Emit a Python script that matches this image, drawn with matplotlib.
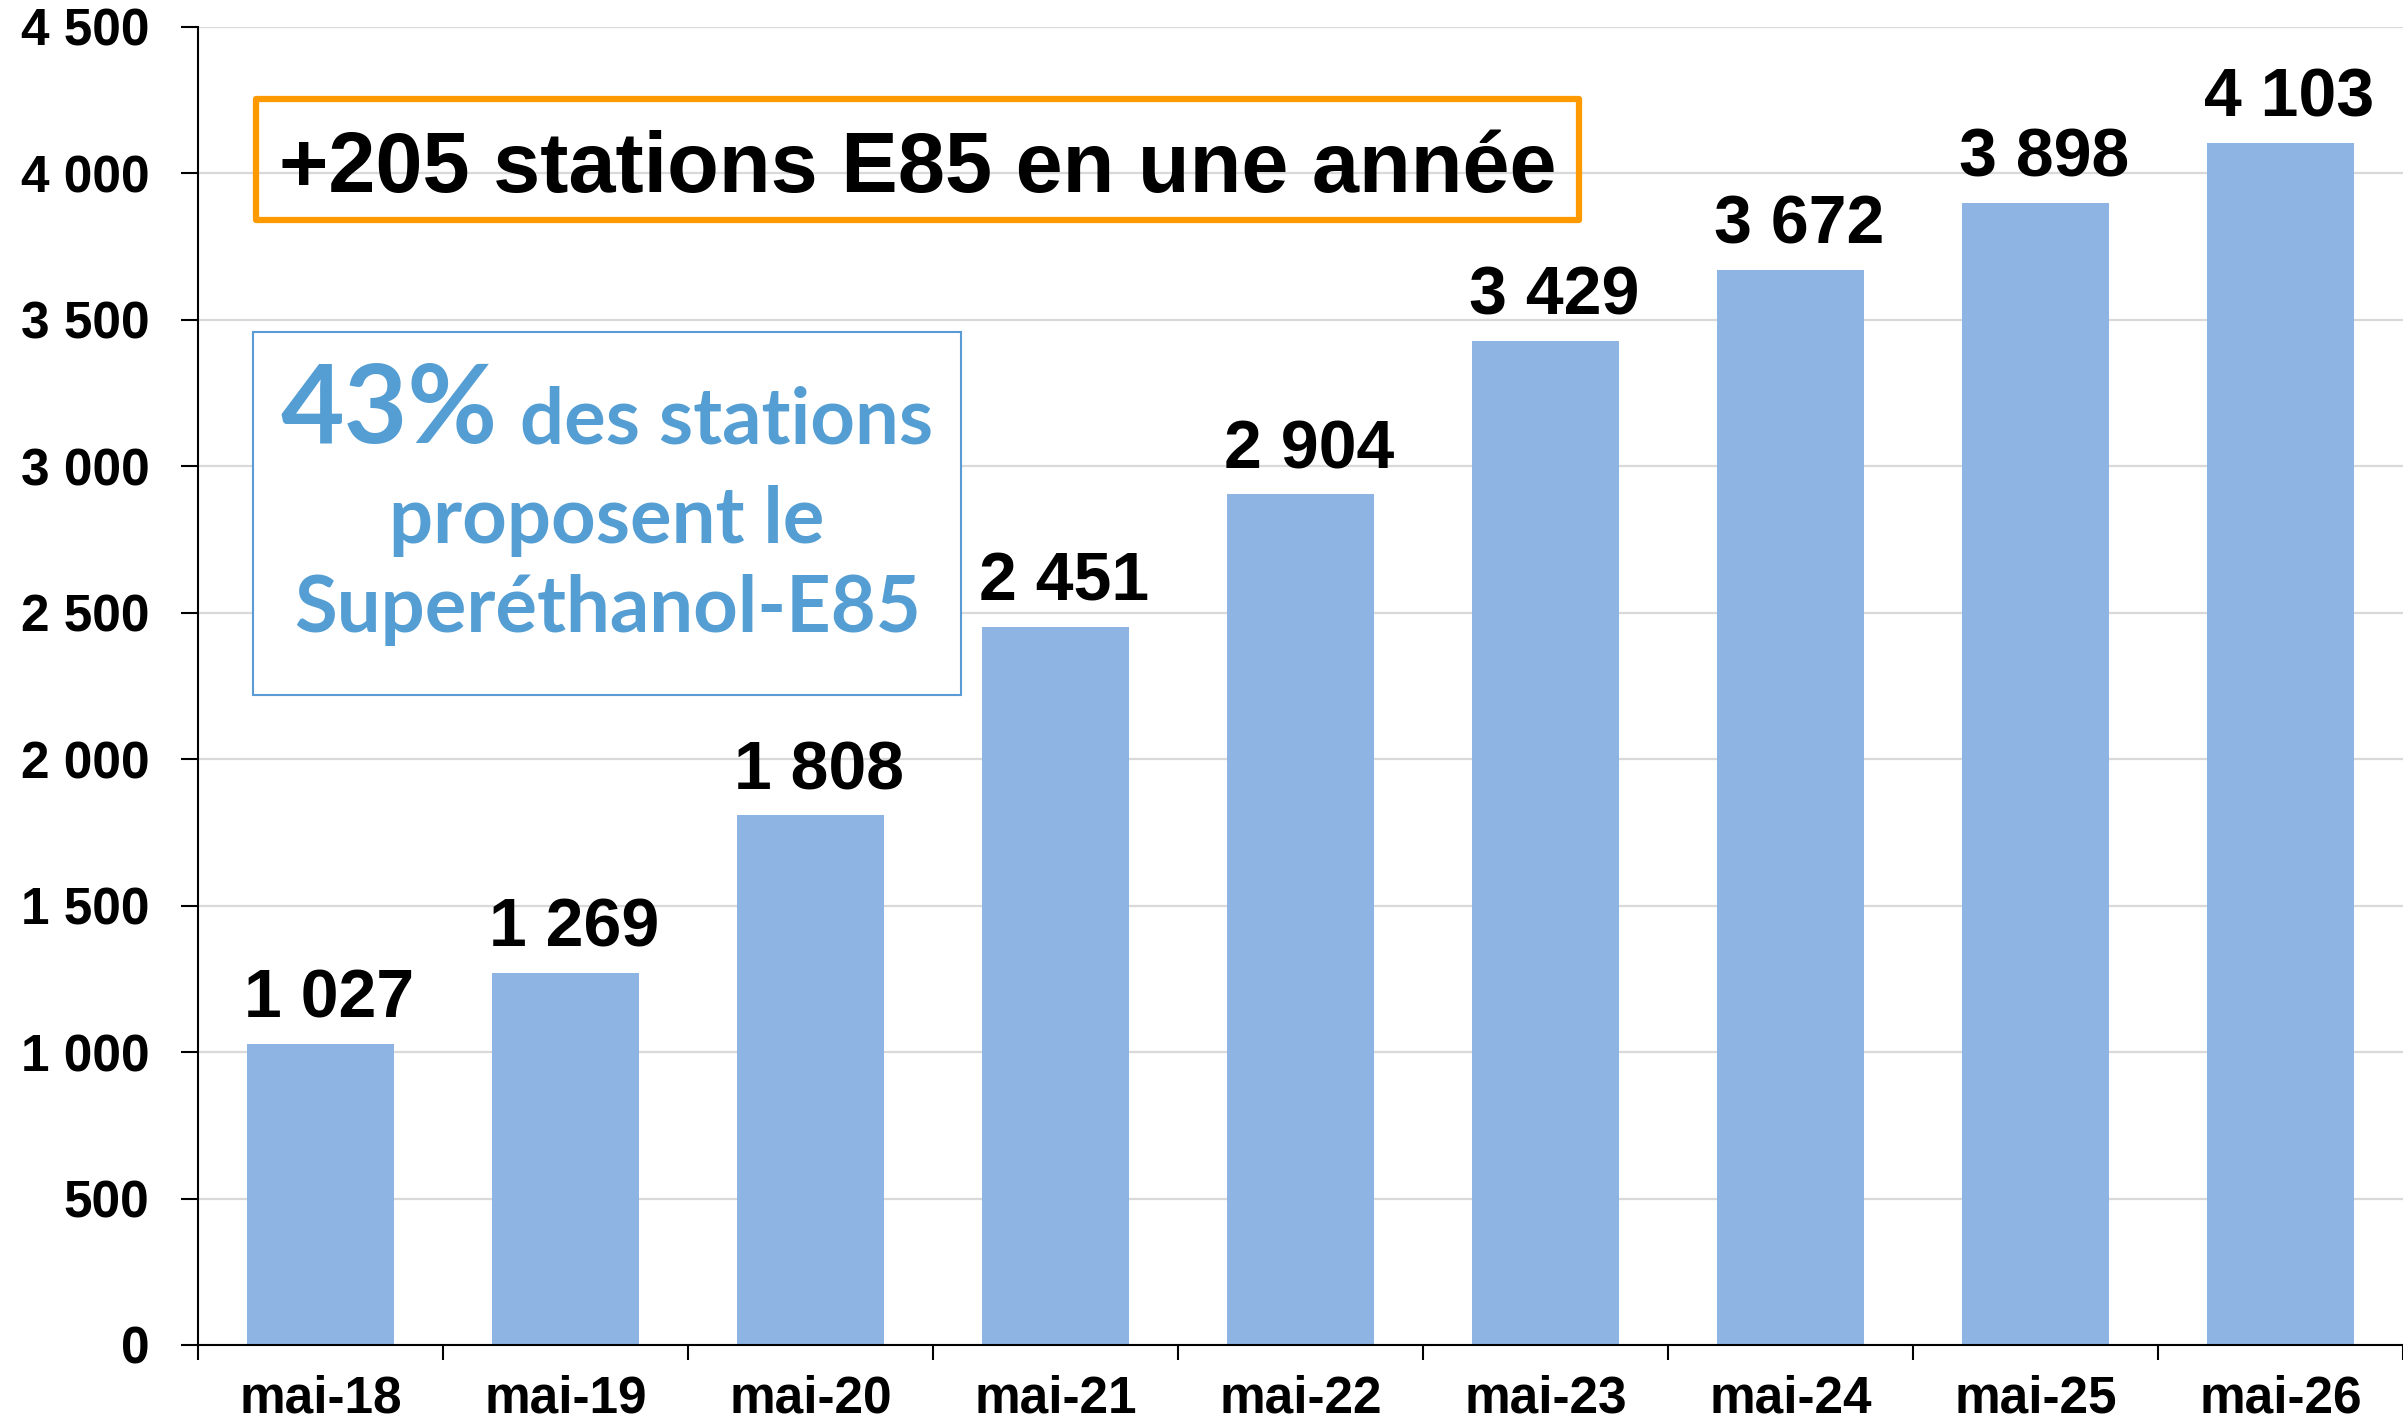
import matplotlib
matplotlib.use("Agg")
import matplotlib.pyplot as plt
import numpy as np
from matplotlib.patches import Rectangle

# data
categories = ["mai-18", "mai-19", "mai-20", "mai-21", "mai-22",
              "mai-23", "mai-24", "mai-25", "mai-26"]
stations = [1027, 1269, 1808, 2451, 2904, 3429, 3672, 3898, 4103]
yticks = list(range(0, 4501, 500))

title_txt = "+205 stations E85 en une année"
pct_txt = "43%"
box_lines = ["des stations", "proposent le", "Superéthanol-E85"]

bar_col = "#8EB4E3"
blue = "#549ED3"
orange = "#FF9900"

def fmt(v):
    return f"{v:,}".replace(",", " ")

plt.rcParams['font.family'] = ['Liberation Sans', 'DejaVu Sans']

fig = plt.figure(figsize=(24.03, 14.24), dpi=100)
ax = fig.add_axes([198/2403, 1-1345/1424, 1-198/2403, (1345-27)/1424])

x = np.arange(len(categories))
ax.bar(x, stations, width=0.6, color=bar_col, zorder=2)

# value labels above bars (slightly right of centre, as in the source)
for xi, v in zip(x, stations):
    ax.annotate(fmt(v), (xi, v), xytext=(6, 19), textcoords="offset points",
                ha="center", va="baseline", fontsize=49, fontweight="bold",
                zorder=4)

ax.set_xlim(-0.5, len(categories) - 0.5)
ax.set_ylim(0, 4500)
ax.set_yticks(yticks)
ax.set_yticklabels([fmt(t) for t in yticks], fontsize=37, fontweight="bold")
ax.tick_params(axis="y", length=12, width=1.5, pad=23)

# ticks between categories, labels at the centres
ax.set_xticks(np.arange(-0.5, len(categories), 1))
ax.set_xticklabels([])
ax.set_xticks(x, minor=True)
ax.set_xticklabels(categories, minor=True, fontsize=37, fontweight="bold")
ax.tick_params(axis="x", which="major", length=11, width=1.5)
ax.tick_params(axis="x", which="minor", length=0, pad=21)

ax.grid(axis="y", color="#D9D9D9", lw=1.6, zorder=0)
ax.set_axisbelow(True)
for s in ["top", "right"]:
    ax.spines[s].set_visible(False)
for s in ["left", "bottom"]:
    ax.spines[s].set_linewidth(1.5)
    ax.spines[s].set_zorder(3)

# orange box
ax.add_patch(Rectangle((-0.2635, 3841), 5.136 + 0.2635, 4255 - 3841,
                       fill=False, ec=orange, lw=4.5, zorder=5,
                       joinstyle="round", clip_on=False))
ax.text(2.436, 3937, title_txt, ha="center", va="baseline",
        fontsize=61, fontweight="bold", zorder=6)

# blue box
ax.add_patch(Rectangle((-0.276, 2219), 2.616 + 0.276, 3460 - 2219,
                       fc="white", ec="#5B9BD5", lw=1.5, zorder=5))
bfont = ["Lato", "DejaVu Sans"]
cx = 1.170
t_pct = ax.text(cx, 3079, pct_txt, ha="left", va="baseline", color=blue,
                fontsize=79, fontweight="bold", family=bfont, zorder=6)
t_des = ax.text(cx, 3079, box_lines[0], ha="left", va="baseline", color=blue,
                fontsize=56, fontweight="bold", family=bfont, zorder=6)
ax.text(cx, 2738, box_lines[1], ha="center", va="baseline", color=blue,
        fontsize=56, fontweight="bold", family=bfont, zorder=6)
ax.text(cx, 2433, box_lines[2], ha="center", va="baseline", color=blue,
        fontsize=56, fontweight="bold", family=bfont, zorder=6)

# centre the first line (two sizes)
fig.canvas.draw()
r = fig.canvas.get_renderer()
w1 = t_pct.get_window_extent(r).width
w2 = t_des.get_window_extent(r).width
gap = 22
cpx = ax.transData.transform((cx, 0))[0]
left = cpx - (w1 + gap + w2) / 2
inv = ax.transData.inverted()
t_pct.set_x(inv.transform((left, 0))[0])
t_des.set_x(inv.transform((left + w1 + gap, 0))[0])

fig.savefig("out.png", dpi=100)
